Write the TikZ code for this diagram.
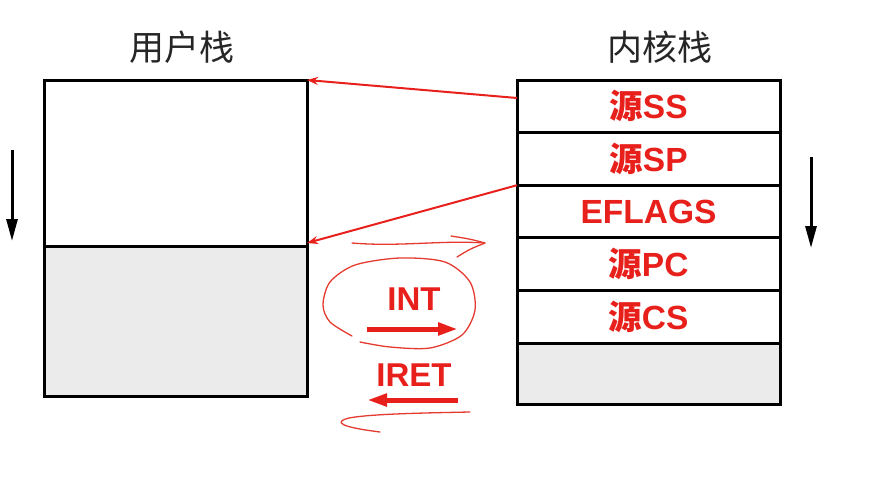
\documentclass[tikz,border=0pt]{standalone}
\usepackage{fontspec}
\setmainfont{Liberation Sans}
\newfontfamily\cjk{Noto Sans CJK SC}
\usetikzlibrary{positioning, arrows.meta}
\definecolor{slidered}{RGB}{232,32,28}
\definecolor{penred}{RGB}{228,58,48}
\definecolor{stackgray}{RGB}{235,235,235}
\newcommand{\yuan}{{\cjk 源}}

\begin{document}
\begin{tikzpicture}[x=1pt, y=-1pt,
	box/.style={draw, line width=3pt, minimum width=263pt, inner sep=0pt, outer sep=0pt},
	cell/.style={box, minimum height=52.6pt, text=slidered, font=\bfseries\fontsize{33.5}{33.5}\selectfont},
	title/.style={font=\cjk\fontsize{35}{35}\selectfont, text=black!85},
	op/.style={text=slidered, font=\bfseries\fontsize{33}{33}\selectfont},
	growarrow/.style={line width=3pt, -{Triangle[length=22pt, width=11pt]}},
	link/.style={slidered, line width=2pt, -{Stealth[length=11pt, width=8pt]}},
	oparrow/.style={slidered, line width=5pt, -{Triangle[length=20pt, width=12pt]}},
	hand/.style={penred, line width=1.3pt, line cap=round, line join=round}]
	\useasboundingbox (0,0) rectangle (870,482);

	% user stack
	\node[box, anchor=north west, minimum height=166pt] (utop) at (44,80) {};
	\node[box, fill=stackgray, minimum height=150pt, below=0pt of utop] (ubot) {};
	\node[title] (utitle) at (182,47) {用户栈};

	% kernel stack
	\node[cell, anchor=north west] (kss) at (517,80) {\yuan SS};
	\node[cell, below=0pt of kss] (ksp) {\yuan SP};
	\node[cell, below=0pt of ksp] (kfl) {EFLAGS};
	\node[cell, below=0pt of kfl] (kpc) {\yuan PC};
	\node[cell, below=0pt of kpc] (kcs) {\yuan CS};
	\node[box, fill=stackgray, minimum height=61pt, below=0pt of kcs] (kfree) {};
	\node[title] (ktitle) at (660,47) {内核栈};

	% growth direction
	\coordinate (ugs) at (12,150);
	\coordinate (uge) at (12,241);
	\coordinate (kgs) at (811,157);
	\coordinate (kge) at (811,248);
	\draw[growarrow] (ugs) -- (uge);
	\draw[growarrow] (kgs) -- (kge);

	% saved stack pointer
	\draw[link] ([yshift=-18pt]kss.north west) -- (utop.north east);
	\draw[link] (ksp.south west) -- ([yshift=3pt]utop.south east);

	% INT / IRET
	\node[op] (int) at (414,299) {INT};
	\node[op] (iret) at (414,375) {IRET};
	\coordinate (ints) at (367,329);
	\coordinate (inte) at (458,329);
	\coordinate (irets) at (458,400);
	\coordinate (irete) at (367,400);
	\draw[oparrow] (ints) -- (inte);
	\draw[oparrow] (irets) -- (irete);

	% pen marks
	\draw[hand] (352,243) .. controls (400,247) and (440,240) .. (485,243);
	\draw[hand] (451,236) .. controls (470,239) .. (485,243) .. controls (470,249) .. (457,257);
	\draw[hand] plot[smooth] coordinates {(352,336) (330,322) (323,305) (330,282) (355,265) (400,258) (445,262) (470,282) (475,310) (462,335) (430,348) (390,347) (360,342)};
	\draw[hand] (470,412) .. controls (420,413) and (370,414) .. (349,418) .. controls (333,422) and (340,427) .. (380,432);
\end{tikzpicture}
\end{document}
